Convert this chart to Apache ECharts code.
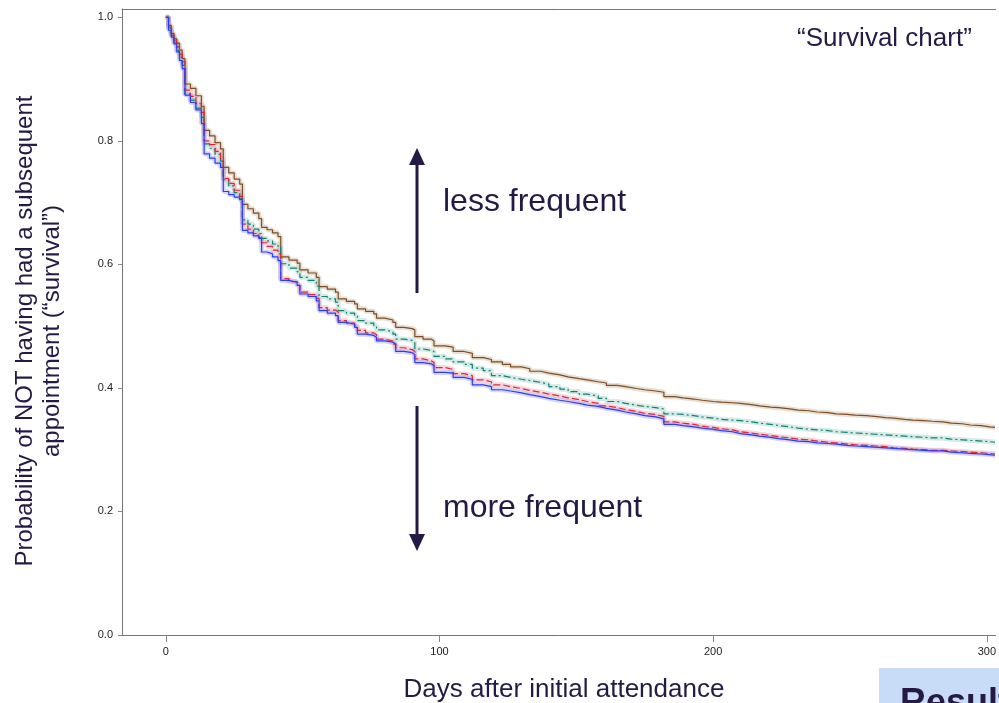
<!DOCTYPE html>
<html>
<head>
<meta charset="utf-8">
<title>Survival chart</title>
<script src="https://cdn.jsdelivr.net/npm/echarts/dist/echarts.min.js"></script>
<style>
  html, body { margin: 0; padding: 0; background: #fff; }
  #chart { width: 999px; height: 703px; }
</style>
</head>
<body>
<div id="chart"></div>
<script>
// days since initial attendance (step points)
const days = [
  0, 1, 2, 3, 4, 5, 6, 7, 9, 11, 13, 14, 16, 18, 20, 21, 23, 25, 27, 28,
  30, 32, 34, 35, 37, 39, 41, 42, 45, 48, 49, 52, 55, 56, 59, 62, 63, 66, 69, 70,
  73, 76, 77, 80, 83, 84, 87, 90, 91, 94, 97, 98,
  102, 105, 109, 112, 116, 119, 123, 126, 130, 133, 137, 140, 144, 147, 151, 154, 158, 161, 165, 168, 172, 175, 179, 182,
  186, 189, 193, 196, 200, 203, 207, 210, 214, 217, 221, 224, 228, 231, 235, 238, 242, 245, 249, 252, 256, 259, 263, 266, 270, 273, 277, 280, 284, 287, 291, 294, 298, 301, 303
];

// survival estimates, top curve (brown, solid)
const survBrown = [
  1.0, 0.987, 0.971, 0.965, 0.958, 0.947, 0.933, 0.892, 0.885, 0.873, 0.856, 0.817, 0.808, 0.797, 0.787, 0.757, 0.748, 0.738, 0.730, 0.697,
  0.690, 0.683, 0.674, 0.660, 0.656, 0.651, 0.645, 0.612, 0.607, 0.602, 0.591, 0.586, 0.579, 0.564, 0.560, 0.555, 0.544, 0.540, 0.536, 0.528,
  0.524, 0.520, 0.513, 0.510, 0.506, 0.498, 0.496, 0.494, 0.483, 0.479, 0.476, 0.468,
  0.466, 0.459, 0.456, 0.449, 0.446, 0.442, 0.438, 0.434, 0.431, 0.427, 0.424, 0.421, 0.418, 0.415, 0.413, 0.410, 0.408, 0.404, 0.402, 0.399, 0.397, 0.395, 0.393, 0.386,
  0.384, 0.382, 0.380, 0.378, 0.377, 0.376, 0.375, 0.373, 0.371, 0.369, 0.368, 0.366, 0.364, 0.363, 0.361, 0.360, 0.358, 0.357, 0.356, 0.355, 0.354, 0.352, 0.351, 0.349, 0.348, 0.347, 0.346, 0.345, 0.343, 0.342, 0.340, 0.339, 0.337, 0.336, 0.336
];

// teal, dash-dot
const survTeal = [
  1.0, 0.982, 0.970, 0.958, 0.946, 0.935, 0.922, 0.876, 0.866, 0.853, 0.838, 0.795, 0.788, 0.778, 0.767, 0.737, 0.727, 0.716, 0.706, 0.672,
  0.665, 0.657, 0.650, 0.642, 0.638, 0.633, 0.628, 0.601, 0.594, 0.588, 0.579, 0.574, 0.565, 0.548, 0.544, 0.539, 0.525, 0.521, 0.517, 0.509,
  0.505, 0.501, 0.494, 0.491, 0.487, 0.479, 0.477, 0.474, 0.463, 0.461, 0.459, 0.451,
  0.447, 0.442, 0.438, 0.432, 0.428, 0.420, 0.417, 0.414, 0.412, 0.409, 0.406, 0.402, 0.398, 0.394, 0.390, 0.387, 0.383, 0.378, 0.375, 0.372, 0.370, 0.368, 0.366, 0.358,
  0.357, 0.355, 0.353, 0.351, 0.349, 0.348, 0.347, 0.345, 0.343, 0.341, 0.339, 0.337, 0.335, 0.333, 0.332, 0.331, 0.329, 0.328, 0.327, 0.326, 0.325, 0.324, 0.323, 0.322, 0.321, 0.320, 0.319, 0.319, 0.317, 0.316, 0.315, 0.314, 0.313, 0.312, 0.312
];

// red, dashed
const survRed = [
  1.0, 0.984, 0.974, 0.962, 0.952, 0.940, 0.928, 0.882, 0.872, 0.860, 0.846, 0.800, 0.794, 0.783, 0.771, 0.739, 0.731, 0.720, 0.710, 0.665,
  0.657, 0.650, 0.643, 0.635, 0.629, 0.623, 0.617, 0.577, 0.572, 0.566, 0.555, 0.551, 0.545, 0.530, 0.526, 0.523, 0.509, 0.505, 0.501, 0.493,
  0.489, 0.486, 0.479, 0.476, 0.471, 0.465, 0.462, 0.459, 0.447, 0.444, 0.441, 0.433,
  0.430, 0.423, 0.420, 0.413, 0.410, 0.405, 0.402, 0.399, 0.396, 0.393, 0.390, 0.387, 0.384, 0.381, 0.378, 0.375, 0.371, 0.368, 0.365, 0.362, 0.359, 0.357, 0.354, 0.345,
  0.343, 0.341, 0.338, 0.336, 0.334, 0.332, 0.329, 0.327, 0.325, 0.323, 0.321, 0.319, 0.317, 0.316, 0.314, 0.312, 0.311, 0.309, 0.308, 0.307, 0.306, 0.305, 0.303, 0.302, 0.301, 0.300, 0.299, 0.299, 0.298, 0.297, 0.296, 0.295, 0.294, 0.293, 0.293
];

// blue, solid (bottom curve)
const survBlue = [
  1.0, 0.979, 0.968, 0.957, 0.944, 0.930, 0.917, 0.874, 0.862, 0.850, 0.828, 0.779, 0.772, 0.764, 0.757, 0.718, 0.713, 0.709, 0.705, 0.655,
  0.651, 0.646, 0.642, 0.620, 0.617, 0.612, 0.606, 0.574, 0.571, 0.566, 0.552, 0.548, 0.541, 0.525, 0.521, 0.517, 0.506, 0.503, 0.498, 0.487,
  0.485, 0.482, 0.476, 0.474, 0.471, 0.459, 0.457, 0.454, 0.441, 0.439, 0.436, 0.425,
  0.424, 0.417, 0.414, 0.405, 0.402, 0.397, 0.395, 0.392, 0.389, 0.386, 0.383, 0.380, 0.378, 0.375, 0.372, 0.370, 0.367, 0.364, 0.361, 0.358, 0.355, 0.353, 0.350, 0.341,
  0.339, 0.337, 0.335, 0.333, 0.331, 0.329, 0.326, 0.324, 0.322, 0.320, 0.318, 0.316, 0.314, 0.313, 0.311, 0.310, 0.309, 0.307, 0.306, 0.305, 0.304, 0.303, 0.302, 0.301, 0.300, 0.299, 0.298, 0.298, 0.296, 0.295, 0.294, 0.293, 0.292, 0.291, 0.290
];

const xTicks = [0, 100, 200, 300];
const yTicks = [0, 0.2, 0.4, 0.6, 0.8, 1.0];

const ink = "#241a44";
const font = "'Liberation Sans', Arial, sans-serif";

function curve(name, values, color, bandColor, dash) {
  const data = days.map((d, i) => [d, values[i]]);
  return [
    {
      name: name + " band",
      type: "line",
      step: "end",
      data: data,
      symbol: "none",
      silent: true,
      z: 1,
      lineStyle: { color: bandColor, width: 5 }
    },
    {
      name: name,
      type: "line",
      step: "end",
      data: data,
      symbol: "none",
      z: 3,
      lineStyle: { color: color, width: 1.2, type: dash }
    }
  ];
}

const myChart = echarts.init(document.getElementById("chart"));

let option = {
  animation: false,
  backgroundColor: "#fff",
  grid: { left: 122, right: 0, top: 9, bottom: 68 },
  xAxis: [
    {
      type: "value",
      min: -16,
      max: 303.2,
      axisLine: { onZero: false, lineStyle: { color: "#777", width: 1 } },
      axisTick: { length: 7, lineStyle: { color: "#888" }, customValues: xTicks },
      axisLabel: {
        customValues: xTicks,
        margin: 11,
        fontSize: 11,
        color: "#222",
        fontFamily: font
      },
      splitLine: { show: false }
    },
    {
      type: "value",
      position: "top",
      min: -16,
      max: 303.2,
      axisLine: { onZero: false, lineStyle: { color: "#777", width: 1 } },
      axisTick: { show: false },
      axisLabel: { show: false },
      splitLine: { show: false }
    }
  ],
  yAxis: {
    type: "value",
    min: 0,
    max: 1.0134,
    axisLine: { show: true, onZero: false, lineStyle: { color: "#777", width: 1 } },
    axisTick: { show: true, length: 4, lineStyle: { color: "#888" }, customValues: yTicks },
    axisLabel: {
      customValues: yTicks,
      margin: 9,
      fontSize: 11,
      color: "#222",
      fontFamily: font,
      formatter: function (v) {
        return v.toFixed(1);
      }
    },
    splitLine: { show: false }
  },
  series: [].concat(
    curve("Brown", survBrown, "#7a4e28", "rgba(190,160,125,0.35)", "solid"),
    curve("Teal", survTeal, "#14806f", "rgba(130,195,185,0.35)", [7, 3, 2, 3]),
    curve("Red", survRed, "#d62a3c", "rgba(235,140,150,0.35)", [7, 3]),
    curve("Blue", survBlue, "#2e3cf0", "rgba(140,140,240,0.35)", "solid")
  ),
  graphic: [
    {
      type: "text",
      x: 38.5,
      y: 331,
      rotation: Math.PI / 2,
      style: {
        text: "Probability of NOT having had a subsequent\nappointment (\u201csurvival\u201d)",
        font: "24px " + font,
        fill: ink,
        align: "center",
        verticalAlign: "middle",
        lineHeight: 27
      }
    },
    {
      type: "text",
      x: 564,
      y: 690,
      style: {
        text: "Days after initial attendance",
        font: "26px " + font,
        fill: ink,
        align: "center",
        verticalAlign: "middle"
      }
    },
    {
      type: "text",
      x: 797,
      y: 39,
      style: {
        text: "\u201cSurvival chart\u201d",
        font: "26px " + font,
        fill: ink,
        align: "left",
        verticalAlign: "middle"
      }
    },
    {
      type: "text",
      x: 443,
      y: 202,
      style: { text: "less frequent", font: "32px " + font, fill: ink, align: "left", verticalAlign: "middle" }
    },
    {
      type: "text",
      x: 443,
      y: 508,
      style: { text: "more frequent", font: "32px " + font, fill: ink, align: "left", verticalAlign: "middle" }
    },
    // arrows
    { type: "line", shape: { x1: 417, y1: 293, x2: 417, y2: 160 }, style: { stroke: ink, lineWidth: 3 } },
    { type: "polygon", shape: { points: [[417, 148], [409, 165], [425, 165]] }, style: { fill: ink } },
    { type: "line", shape: { x1: 417, y1: 406, x2: 417, y2: 538 }, style: { stroke: ink, lineWidth: 3 } },
    { type: "polygon", shape: { points: [[417, 551], [409, 534], [425, 534]] }, style: { fill: ink } },
    // next slide box peeking in
    { type: "rect", shape: { x: 879, y: 668, width: 130, height: 40 }, style: { fill: "#c9dcf7" } },
    {
      type: "text",
      x: 900,
      y: 704,
      style: { text: "Results", font: "bold 36px " + font, fill: ink, align: "left", verticalAlign: "middle" }
    }
  ]
};
myChart.setOption(option, true);
</script>
</body>
</html>
